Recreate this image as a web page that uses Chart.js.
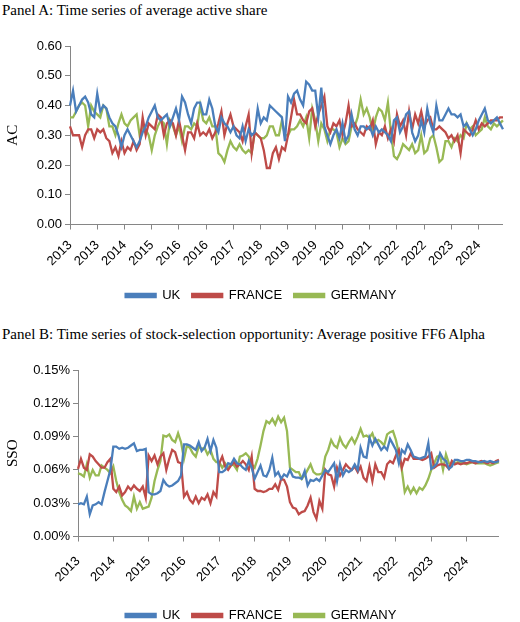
<!DOCTYPE html>
<html>
<head>
<meta charset="utf-8">
<script src="https://cdn.jsdelivr.net/npm/chart.js@4.4.1/dist/chart.umd.min.js"></script>
<style>
  body { margin: 0; background: #fff; width: 520px; height: 622px; position: relative; overflow: hidden; }
  .title { position: absolute; left: 2px; font-family: "Liberation Serif", serif; font-size: 15px; color: #000; }
  .box { position: absolute; left: 0; width: 522px; }
</style>
</head>
<body>
<div class="title" style="top:2px">Panel A: Time series of average active share</div>
<div class="box" style="top:22px;height:290px"><canvas id="chartA"></canvas></div>
<div class="title" style="top:326px">Panel B: Time series of stock-selection opportunity: Average positive FF6 Alpha</div>
<div class="box" style="top:332px;height:300px"><canvas id="chartB"></canvas></div>
<script>
// Monthly observations, Jan 2013 - Dec 2024
const years = [2013,2014,2015,2016,2017,2018,2019,2020,2021,2022,2023,2024];
const seriesNames = ['UK', 'FRANCE', 'GERMANY'];
const seriesColours = ['#4a7ebb', '#be4b48', '#98b954'];

// Panel A: average active share
const ukAC = [
  .40,.45,.38,.40,.42,.43,.41,.37,.36,.44,.38,.40,
  .39,.36,.34,.33,.30,.26,.30,.32,.30,.28,.26,.28,
  .31,.33,.36,.38,.40,.36,.35,.36,.37,.33,.36,.39,
  .35,.43,.41,.37,.34,.39,.41,.41,.37,.37,.42,.39,
  .33,.31,.36,.34,.33,.31,.33,.30,.29,.33,.28,.32,
  .30,.31,.39,.34,.36,.35,.40,.39,.38,.37,.36,.28,
  .43,.41,.44,.45,.42,.40,.48,.47,.45,.45,.36,.46,
  .33,.30,.27,.30,.32,.29,.34,.28,.30,.37,.32,.30,
  .33,.33,.32,.33,.30,.33,.31,.32,.31,.30,.28,.35,
  .36,.31,.33,.37,.38,.31,.28,.30,.35,.31,.39,.34,
  .31,.40,.35,.35,.37,.39,.37,.37,.36,.37,.33,.34,
  .32,.30,.32,.35,.37,.39,.35,.34,.35,.36,.34,.32
];
const franceAC = [
  .33,.30,.30,.30,.26,.30,.32,.32,.29,.32,.31,.32,
  .29,.28,.24,.26,.23,.28,.24,.26,.25,.28,.25,.27,
  .36,.30,.34,.33,.32,.37,.36,.30,.34,.35,.34,.30,
  .35,.30,.25,.31,.31,.29,.34,.30,.31,.30,.32,.29,
  .31,.34,.38,.30,.34,.37,.33,.32,.31,.28,.33,.37,
  .24,.31,.30,.29,.25,.19,.19,.24,.26,.22,.26,.25,
  .30,.36,.42,.37,.37,.35,.34,.38,.39,.33,.37,.40,
  .43,.33,.31,.34,.33,.35,.30,.34,.40,.33,.34,.32,
  .31,.30,.33,.32,.35,.27,.31,.30,.33,.29,.32,.28,
  .37,.33,.35,.30,.38,.32,.37,.34,.38,.33,.35,.36,
  .32,.32,.33,.32,.31,.29,.30,.28,.30,.24,.32,.31,
  .30,.32,.35,.32,.34,.33,.34,.35,.35,.35,.36,.36
];
const germanyAC = [
  .36,.36,.38,.40,.41,.40,.33,.40,.38,.37,.36,.40,
  .39,.33,.33,.30,.34,.37,.34,.33,.35,.36,.37,.30,
  .33,.32,.30,.25,.30,.33,.35,.34,.27,.35,.33,.30,
  .33,.28,.33,.33,.32,.34,.33,.40,.35,.34,.36,.33,
  .33,.24,.23,.21,.25,.28,.26,.25,.27,.25,.24,.25,
  .24,.31,.30,.29,.29,.30,.33,.33,.30,.30,.35,.30,
  .30,.32,.32,.33,.35,.33,.36,.29,.39,.35,.28,.34,
  .32,.28,.32,.32,.31,.26,.29,.27,.28,.33,.33,.36,
  .42,.37,.39,.36,.31,.36,.39,.38,.35,.41,.31,.23,
  .22,.24,.27,.26,.25,.27,.24,.25,.30,.24,.25,.29,
  .30,.26,.21,.22,.28,.28,.26,.29,.28,.30,.29,.34,
  .32,.33,.30,.31,.32,.36,.33,.32,.34,.33,.34,.35
];

// Panel B: average positive FF6 alpha, in percent
const ukSSO = [
  .029,.030,.029,.036,.020,.028,.029,.031,.029,.040,.050,.060,
  .081,.081,.079,.080,.079,.080,.082,.084,.077,.078,.078,.079,
  .040,.038,.038,.039,.041,.051,.047,.045,.046,.048,.050,.055,
  .083,.083,.082,.080,.078,.085,.077,.080,.088,.077,.087,.080,
  .058,.058,.060,.066,.065,.070,.066,.065,.062,.060,.068,.062,
  .052,.058,.064,.055,.054,.060,.071,.055,.058,.052,.056,.054,
  .060,.054,.053,.053,.052,.059,.046,.051,.050,.052,.050,.055,
  .060,.058,.062,.066,.050,.065,.055,.060,.058,.060,.065,.060,
  .080,.072,.071,.089,.082,.088,.083,.078,.081,.078,.088,.083,
  .078,.066,.078,.075,.083,.078,.072,.071,.070,.071,.072,.084,
  .061,.063,.066,.075,.070,.068,.061,.063,.069,.069,.068,.068,
  .069,.069,.068,.068,.067,.067,.068,.067,.068,.067,.067,.068
];
const franceSSO = [
  .061,.070,.062,.060,.074,.072,.068,.065,.062,.062,.067,.070,
  .043,.040,.045,.037,.040,.045,.042,.046,.043,.041,.045,.035,
  .073,.068,.073,.065,.072,.075,.060,.070,.078,.076,.067,.066,
  .036,.040,.033,.030,.036,.030,.035,.033,.038,.030,.040,.036,
  .066,.072,.063,.060,.064,.067,.063,.065,.068,.065,.060,.072,
  .043,.041,.041,.040,.041,.043,.043,.047,.042,.052,.051,.045,
  .031,.026,.025,.020,.022,.023,.028,.035,.022,.016,.032,.025,
  .060,.056,.055,.045,.062,.055,.060,.065,.062,.060,.063,.058,
  .063,.053,.050,.063,.050,.065,.058,.058,.053,.065,.068,.066,
  .073,.078,.062,.070,.069,.075,.070,.070,.070,.069,.070,.072,
  .075,.062,.064,.065,.065,.064,.061,.068,.065,.066,.065,.066,
  .066,.067,.067,.066,.067,.068,.067,.066,.067,.066,.068,.069
];
const germanySSO = [
  .057,.056,.054,.065,.053,.060,.055,.055,.064,.062,.060,.057,
  .063,.050,.040,.033,.028,.026,.023,.036,.025,.031,.025,.026,
  .027,.035,.050,.060,.068,.091,.090,.092,.087,.085,.093,.085,
  .070,.082,.080,.075,.072,.081,.079,.080,.074,.078,.070,.067,
  .067,.062,.066,.062,.065,.064,.060,.072,.073,.075,.072,.065,
  .062,.070,.082,.095,.104,.102,.106,.101,.108,.103,.107,.095,
  .062,.060,.058,.058,.052,.055,.060,.065,.058,.056,.056,.057,
  .072,.078,.087,.082,.080,.089,.083,.080,.085,.089,.084,.090,
  .097,.090,.091,.089,.093,.085,.087,.085,.082,.092,.094,.095,
  .087,.075,.060,.040,.045,.039,.044,.039,.044,.042,.046,.052,
  .060,.066,.072,.073,.060,.074,.066,.065,.066,.067,.066,.066,
  .065,.066,.067,.066,.066,.066,.066,.065,.064,.065,.066,.067
];

// One year label per month
const monthLabels = [];
for (const y of years) {
    for (let m = 0; m < 12; m++) monthLabels.push(String(y));
}

const tickFont = { family: 'Liberation Sans', size: 13 };
const axisColour = '#868686';

function makeChart(id, seriesData, yTitle, yMax, yStep, labelEvery, yFmt, yWidth, topPad, tickPad) {
    return new Chart(id, {
        type: 'line',
        data: {
            labels: monthLabels,
            datasets: seriesData.map((d, i) => ({
                label: seriesNames[i],
                data: d,
                borderColor: seriesColours[i],
                backgroundColor: seriesColours[i],
                borderWidth: 2.3,
                pointRadius: 0,
                tension: 0
            }))
        },
        options: {
            responsive: true,
            maintainAspectRatio: false,
            animation: false,
            layout: { padding: { top: topPad, right: 0, bottom: 0 } },
            scales: {
                x: {
                    offset: false,
                    border: { color: axisColour },
                    grid: {
                        drawOnChartArea: false,
                        tickLength: 5,
                        color: (c) => (c.index % labelEvery === 0 ? axisColour : 'transparent')
                    },
                    ticks: {
                        autoSkip: false,
                        maxRotation: 45,
                        minRotation: 45,
                        color: '#000',
                        font: tickFont,
                        padding: tickPad,
                        callback: function (v, i) { return i % labelEvery === 0 ? this.getLabelForValue(v) : ''; }
                    }
                },
                y: {
                    min: 0,
                    max: yMax,
                    border: { color: axisColour },
                    grid: { drawOnChartArea: false, tickLength: 5, color: axisColour },
                    ticks: { stepSize: yStep, color: '#000', font: tickFont, callback: yFmt },
                    title: { display: true, text: yTitle, color: '#000', font: { family: 'Liberation Serif', size: 15 } },
                    afterFit: (axis) => { axis.width = yWidth; }
                }
            },
            plugins: {
                legend: {
                    position: 'bottom',
                    labels: { boxWidth: 30, boxHeight: 3, color: '#000', font: tickFont, padding: 12 }
                },
                tooltip: { enabled: false }
            }
        }
    });
}

makeChart('chartA', [ukAC, franceAC, germanyAC], 'AC', 0.6, 0.1, 9,
    (v) => v.toFixed(2), 70, 24, 8);
makeChart('chartB', [ukSSO, franceSSO, germanySSO], 'SSO', 0.15, 0.03, 12,
    (v) => v.toFixed(2) + '%', 78, 38, 12);
</script>
</body>
</html>
